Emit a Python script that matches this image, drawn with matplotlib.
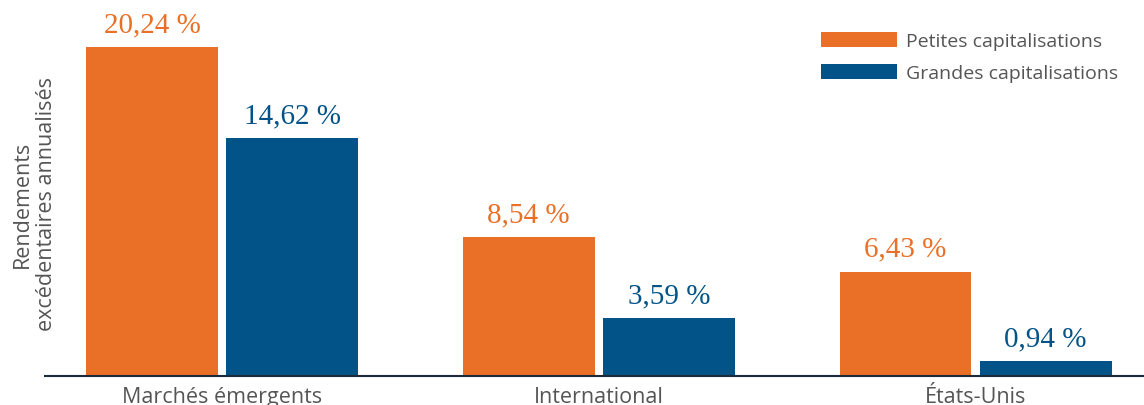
import matplotlib
matplotlib.use("Agg")
import matplotlib.pyplot as plt
import numpy as np

# data
categories = ["Marchés émergents", "International", "États-Unis"]
petites = [20.24, 8.54, 6.43]
grandes = [14.62, 3.59, 0.94]
series_names = ["Petites capitalisations", "Grandes capitalisations"]

orange = "#E97026"
blue = "#025387"
grey = "#555555"

fig = plt.figure(figsize=(11.44, 4.06), dpi=100)
ax = fig.add_axes([45 / 1144, 29 / 406, 1099 / 1144, 377 / 406])

x = np.arange(len(categories))
w = 0.350
off = 0.186
b1 = ax.bar(x - off, petites, w, color=orange, label=series_names[0])
b2 = ax.bar(x + off, grandes, w, color=blue, label=series_names[1])

for bars, vals, col in [(b1, petites, orange), (b2, grandes, blue)]:
    for r, v in zip(bars, vals):
        ax.annotate(f"{v:.2f} %".replace(".", ","),
                    (r.get_x() + r.get_width() / 2, r.get_height()),
                    xytext=(0, 7), textcoords="offset points",
                    ha="center", va="bottom", color=col,
                    fontsize=21, family="Liberation Serif")

ax.set_xlim(-0.470, 2.447)
ax.set_ylim(0, 23.2)
ax.set_xticks(x)
ax.set_xticklabels(categories, fontsize=15.5, color=grey, family="Open Sans")
ax.tick_params(axis="x", length=0, pad=7)
ax.set_yticks([])
for s in ["top", "right", "left"]:
    ax.spines[s].set_visible(False)
ax.spines["bottom"].set_color("#1c2b3a")
ax.spines["bottom"].set_linewidth(1.5)

ax.set_ylabel("Rendements\nexcédentaires annualisés", fontsize=15.5,
              color=grey, family="Open Sans", linespacing=1.15)
ax.yaxis.set_label_coords(0.0105, 0.459)

ax.legend(loc="upper left", bbox_to_anchor=(821 / 1144, 1 - 32.5 / 406),
          bbox_transform=fig.transFigure, frameon=False,
          handlelength=3.9, handleheight=0.82, labelspacing=0.72,
          handletextpad=0.45, borderpad=0, borderaxespad=0,
          labelcolor=grey, prop={"family": "Open Sans", "size": 14})

fig.savefig("out.png", dpi=100)
